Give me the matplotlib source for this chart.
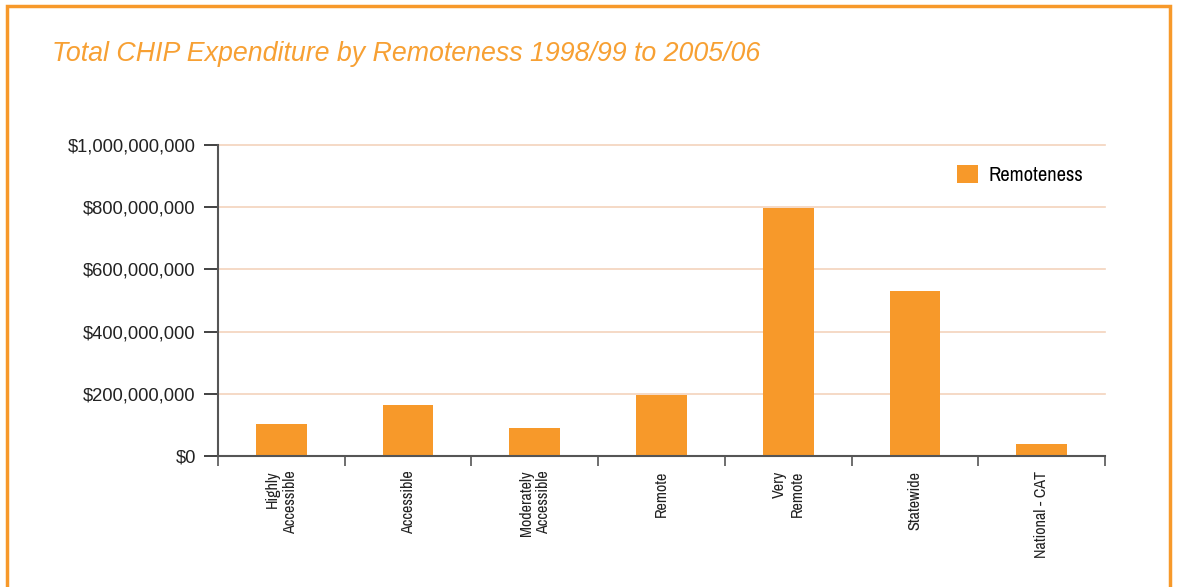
import matplotlib.pyplot as plt
import matplotlib.patches as mpatches
from matplotlib.ticker import FuncFormatter
from matplotlib import font_manager
import numpy as np

categories = ['Highly\nAccessible', 'Accessible', 'Moderately\nAccessible', 'Remote',
              'Very\nRemote', 'Statewide', 'National - CAT']
expenditure = [103000000, 164000000, 90000000, 197000000, 798000000, 530000000, 38000000]

orange = '#F7992A'
grid_col = '#F3D3BC'
axis_col = '#555555'

# narrow face for the category labels and legend
fonts = font_manager.fontManager.ttflist
narrow = [f.name for f in fonts if 'Narrow' in f.name]
narrow_fam = [narrow[0], 'DejaVu Sans'] if narrow else ['DejaVu Sans']
plt.rcParams['font.family'] = ['Liberation Sans', 'DejaVu Sans']

fig = plt.figure(figsize=(11.78, 5.87), dpi=100)
ax = fig.add_axes([218 / 1178, 1 - 456 / 587, (1105 - 218) / 1178, (456 - 145) / 587])

x = np.arange(len(categories))
ax.bar(x, expenditure, width=0.4, color=orange, label='Remoteness', zorder=3)

ax.set_xlim(-0.5, len(categories) - 0.5)
ax.set_ylim(0, 1000000000)
ax.set_yticks(np.arange(0, 1000000001, 200000000))
ax.yaxis.set_major_formatter(FuncFormatter(lambda v, p: '${:,.0f}'.format(v)))
ax.tick_params(axis='y', labelsize=13.2, colors='#222222', length=10, width=1.2, pad=6)
for t in ax.get_yticklines():
    t.set_color(axis_col)

ax.set_xticks(x)
ax.set_xticklabels(categories, rotation=90, ha='center', va='top', multialignment='right',
                   family=narrow_fam)
ax.set_xticks(np.arange(-0.5, len(categories), 1), minor=True)
ax.tick_params(axis='x', which='major', length=0, labelsize=11.6, pad=10.5, colors='#222222')
ax.tick_params(axis='x', which='minor', length=7, width=1.2, color=axis_col)

ax.grid(axis='y', color=grid_col, linewidth=1.2, zorder=0)
for g in ax.get_ygridlines():
    g.set_clip_on(False)
for s in ['top', 'right']:
    ax.spines[s].set_visible(False)
for s in ['left', 'bottom']:
    ax.spines[s].set_color(axis_col)
    ax.spines[s].set_linewidth(1.5)
ax.spines['bottom'].set_zorder(4)

leg = ax.legend(loc='upper right', bbox_to_anchor=(0.996, 0.995), frameon=False,
                prop={'family': narrow_fam, 'size': 14.8},
                handlelength=1.0, handleheight=1.0, handletextpad=0.5)

fig.text(52 / 1178, 1 - 54 / 587, 'Total CHIP Expenditure by Remoteness 1998/99 to 2005/06',
         color='#F7A033', fontsize=19.3, style='italic', ha='left', va='center')

border = mpatches.Rectangle((7 / 1178, -0.05), (1170 - 7) / 1178, 1.05 - 6 / 587,
                            transform=fig.transFigure, fill=False, edgecolor=orange,
                            linewidth=2.5, zorder=10)
fig.patches.append(border)

fig.savefig('out.png', dpi=100)
